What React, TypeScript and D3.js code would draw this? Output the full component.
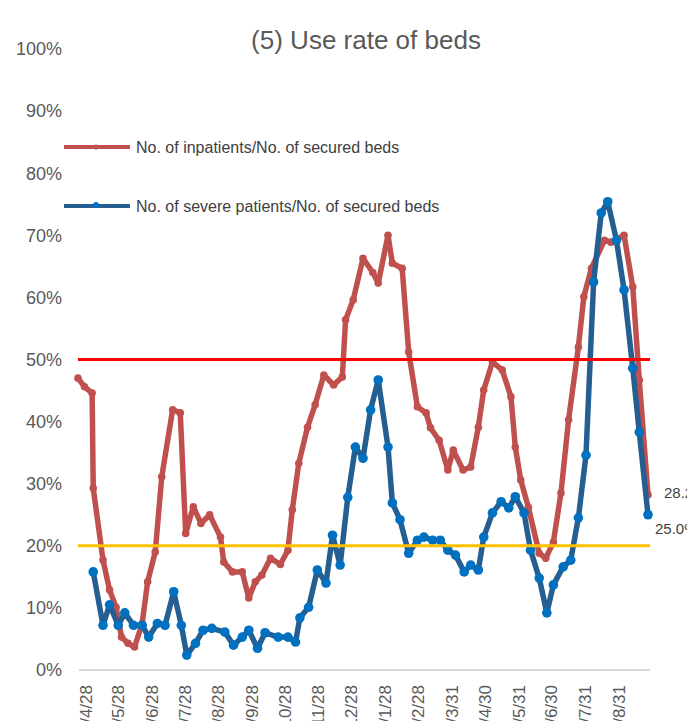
import React from "react";
import * as d3 from "d3";

const title = "(5) Use rate of beds";
const seriesNames = ["No. of inpatients/No. of secured beds", "No. of severe patients/No. of secured beds"];

const inpatientDates = [
  "2020-04-21","2020-04-27","2020-05-04","2020-05-05","2020-05-14","2020-05-20","2020-05-26","2020-05-31",
  "2020-06-06","2020-06-12","2020-06-19","2020-06-24","2020-07-01","2020-07-07","2020-07-17","2020-07-24",
  "2020-07-29","2020-08-05","2020-08-12","2020-08-20","2020-08-30","2020-09-02","2020-09-10","2020-09-19",
  "2020-09-25","2020-10-01","2020-10-07","2020-10-15","2020-10-24","2020-10-31","2020-11-04","2020-11-10",
  "2020-11-18","2020-11-25","2020-12-03","2020-12-12","2020-12-20","2020-12-23","2020-12-30","2021-01-08",
  "2021-01-17","2021-01-22","2021-01-31","2021-02-04","2021-02-13","2021-02-19","2021-02-27","2021-03-07",
  "2021-03-11","2021-03-19","2021-03-27","2021-04-01","2021-04-10","2021-04-17","2021-04-24","2021-04-29",
  "2021-05-07","2021-05-16","2021-05-24","2021-05-28","2021-06-02","2021-06-09","2021-06-19","2021-06-25",
  "2021-07-02","2021-07-09","2021-07-16","2021-07-25","2021-07-30","2021-08-06","2021-08-18","2021-08-24",
  "2021-09-05","2021-09-13","2021-09-19","2021-09-27"
];
const inpatientValues = [
  47.0, 45.6, 44.6, 29.3, 17.7, 12.9, 10.1, 5.3,
  4.3, 3.7, 7.5, 14.2, 19.0, 31.1, 41.9, 41.4,
  22.0, 26.3, 23.6, 25.0, 21.4, 17.4, 15.8, 15.8,
  11.6, 14.2, 15.3, 18.0, 17.0, 19.3, 25.8, 33.3,
  39.1, 42.7, 47.5, 45.9, 47.2, 56.4, 59.6, 66.3,
  64.0, 62.3, 70.0, 65.5, 64.7, 51.2, 42.4, 41.4,
  39.0, 37.0, 32.2, 35.4, 32.2, 32.7, 39.1, 45.1,
  49.6, 48.3, 44.0, 35.9, 30.6, 26.2, 18.8, 18.0,
  20.6, 28.5, 40.3, 52.0, 60.1, 64.7, 69.2, 68.9,
  70.0, 61.7, 46.7, 28.2
];

const severeDates = [
  "2020-05-05","2020-05-14","2020-05-20","2020-05-28","2020-06-03","2020-06-11","2020-06-19","2020-06-25",
  "2020-07-03","2020-07-10","2020-07-18","2020-07-25","2020-07-30","2020-08-07","2020-08-14","2020-08-22",
  "2020-09-03","2020-09-11","2020-09-19","2020-09-25","2020-10-03","2020-10-10","2020-10-22","2020-10-31",
  "2020-11-07","2020-11-11","2020-11-19","2020-11-27","2020-12-05","2020-12-11","2020-12-18","2020-12-25",
  "2021-01-01","2021-01-08","2021-01-15","2021-01-22","2021-01-31","2021-02-04","2021-02-11","2021-02-19",
  "2021-02-27","2021-03-05","2021-03-13","2021-03-20","2021-03-27","2021-04-03","2021-04-11","2021-04-17",
  "2021-04-24","2021-04-29","2021-05-07","2021-05-15","2021-05-22","2021-05-28","2021-06-05","2021-06-11",
  "2021-06-19","2021-06-26","2021-07-02","2021-07-11","2021-07-18","2021-07-25","2021-08-01","2021-08-08",
  "2021-08-15","2021-08-21","2021-08-29","2021-09-05","2021-09-13","2021-09-19","2021-09-27"
];
const severeValues = [
  15.8, 7.2, 10.5, 7.2, 9.2, 7.2, 7.2, 5.3,
  7.5, 7.2, 12.6, 7.2, 2.4, 4.3, 6.4, 6.7,
  6.1, 4.0, 5.3, 6.4, 3.5, 6.0, 5.3, 5.3,
  4.5, 8.4, 10.1, 16.1, 14.0, 21.7, 16.9, 27.8,
  35.9, 34.1, 41.9, 46.7, 35.9, 26.9, 24.2, 18.8,
  20.9, 21.4, 20.9, 20.9, 19.3, 18.5, 15.8, 16.9,
  16.1, 21.4, 25.3, 27.1, 26.1, 27.9, 25.3, 19.3,
  14.8, 9.2, 13.7, 16.6, 17.7, 24.5, 34.6, 62.5,
  73.6, 75.4, 69.2, 61.2, 48.6, 38.3, 25.0
];

const yTicks = [0, 10, 20, 30, 40, 50, 60, 70, 80, 90, 100];
const xTickDates = [
  "2020-04-28","2020-05-28","2020-06-28","2020-07-28","2020-08-28","2020-09-28","2020-10-28","2020-11-28",
  "2020-12-28","2021-01-28","2021-02-28","2021-03-31","2021-04-30","2021-05-31","2021-06-30","2021-07-31","2021-08-31"
];
const xTickLabels = [
  "2020/4/28","2020/5/28","2020/6/28","2020/7/28","2020/8/28","2020/9/28","2020/10/28","2020/11/28",
  "2020/12/28","2021/1/28","2021/2/28","2021/3/31","2021/4/30","2021/5/31","2021/6/30","2021/7/31","2021/8/31"
];
const thresholds = [50, 20];
const endLabels = ["28.2%", "25.0%"];

const parse = d3.timeParse("%Y-%m-%d");

export default function App() {
  const W = 687, H = 721;
  const x = d3.scaleTime()
    .domain([parse("2020-04-21")!, parse("2021-09-27")!])
    .range([78, 648]);
  const y = d3.scaleLinear().domain([0, 100]).range([670, 49]);

  const red = inpatientDates.map((d, i) => ({ d: parse(d)!, v: inpatientValues[i] }));
  const blue = severeDates.map((d, i) => ({ d: parse(d)!, v: severeValues[i] }));
  const line = d3.line<{ d: Date; v: number }>().x(p => x(p.d)).y(p => y(p.v));

  const font = "'Liberation Sans', Arial, sans-serif";
  const redC = "#c0504d";
  const blueLine = "#255e91";
  const blueMark = "#0070c0";
  const refColors = ["#ff0000", "#ffc000"];

  return (
    <div style={{ position: "absolute", left: 0, top: 0 }}>
      <svg width={W} height={H} style={{ display: "block", overflow: "hidden" }} fontFamily={font}>
        <rect width={W} height={H} fill="#fff" />
        <text x={366} y={49} textAnchor="middle" fontSize={26} fill="#595959">{title}</text>

        {yTicks.map(t => (
          <text key={t} x={62} y={y(t)} dy="0.35em" textAnchor="end" fontSize={18} fill="#595959">{t}%</text>
        ))}
        <line x1={79} x2={650} y1={y(0)} y2={y(0)} stroke="#d9d9d9" strokeWidth={2} />

        {xTickDates.map((d, i) => {
          const px = x(parse(d)!);
          return (
            <text key={d} transform={`translate(${px},685) rotate(-90)`} dy="0.35em" textAnchor="end"
              fontSize={17} fill="#595959">{xTickLabels[i]}</text>
          );
        })}

        <path d={line(red) || ""} fill="none" stroke={redC} strokeWidth={5.5} strokeLinejoin="round" strokeLinecap="round" />
        {red.map((p, i) => <circle key={"r" + i} cx={x(p.d)} cy={y(p.v)} r={3.8} fill={redC} />)}
        <path d={line(blue) || ""} fill="none" stroke={blueLine} strokeWidth={5.5} strokeLinejoin="round" strokeLinecap="round" />
        {blue.map((p, i) => <circle key={"b" + i} cx={x(p.d)} cy={y(p.v)} r={4.8} fill={blueMark} />)}

        {thresholds.map((t, i) => (
          <line key={t} x1={78} x2={650} y1={y(t)} y2={y(t)} stroke={refColors[i]} strokeWidth={3} />
        ))}

        <text x={664} y={y(28.2) - 2} dy="0.35em" fontSize={15} fill="#404040">{endLabels[0]}</text>
        <text x={655} y={y(25.0) + 14} dy="0.35em" fontSize={15} fill="#404040">{endLabels[1]}</text>

        <line x1={64} x2={130} y1={147} y2={147} stroke={redC} strokeWidth={4} />
        <circle cx={96} cy={147} r={2.5} fill={redC} />
        <text x={136} y={147} dy="0.35em" fontSize={16} fill="#404040">{seriesNames[0]}</text>
        <line x1={64} x2={130} y1={206} y2={206} stroke={blueLine} strokeWidth={4} />
        <circle cx={96} cy={205} r={3} fill={blueMark} />
        <text x={136} y={206} dy="0.35em" fontSize={16} fill="#404040">{seriesNames[1]}</text>
      </svg>
    </div>
  );
}
